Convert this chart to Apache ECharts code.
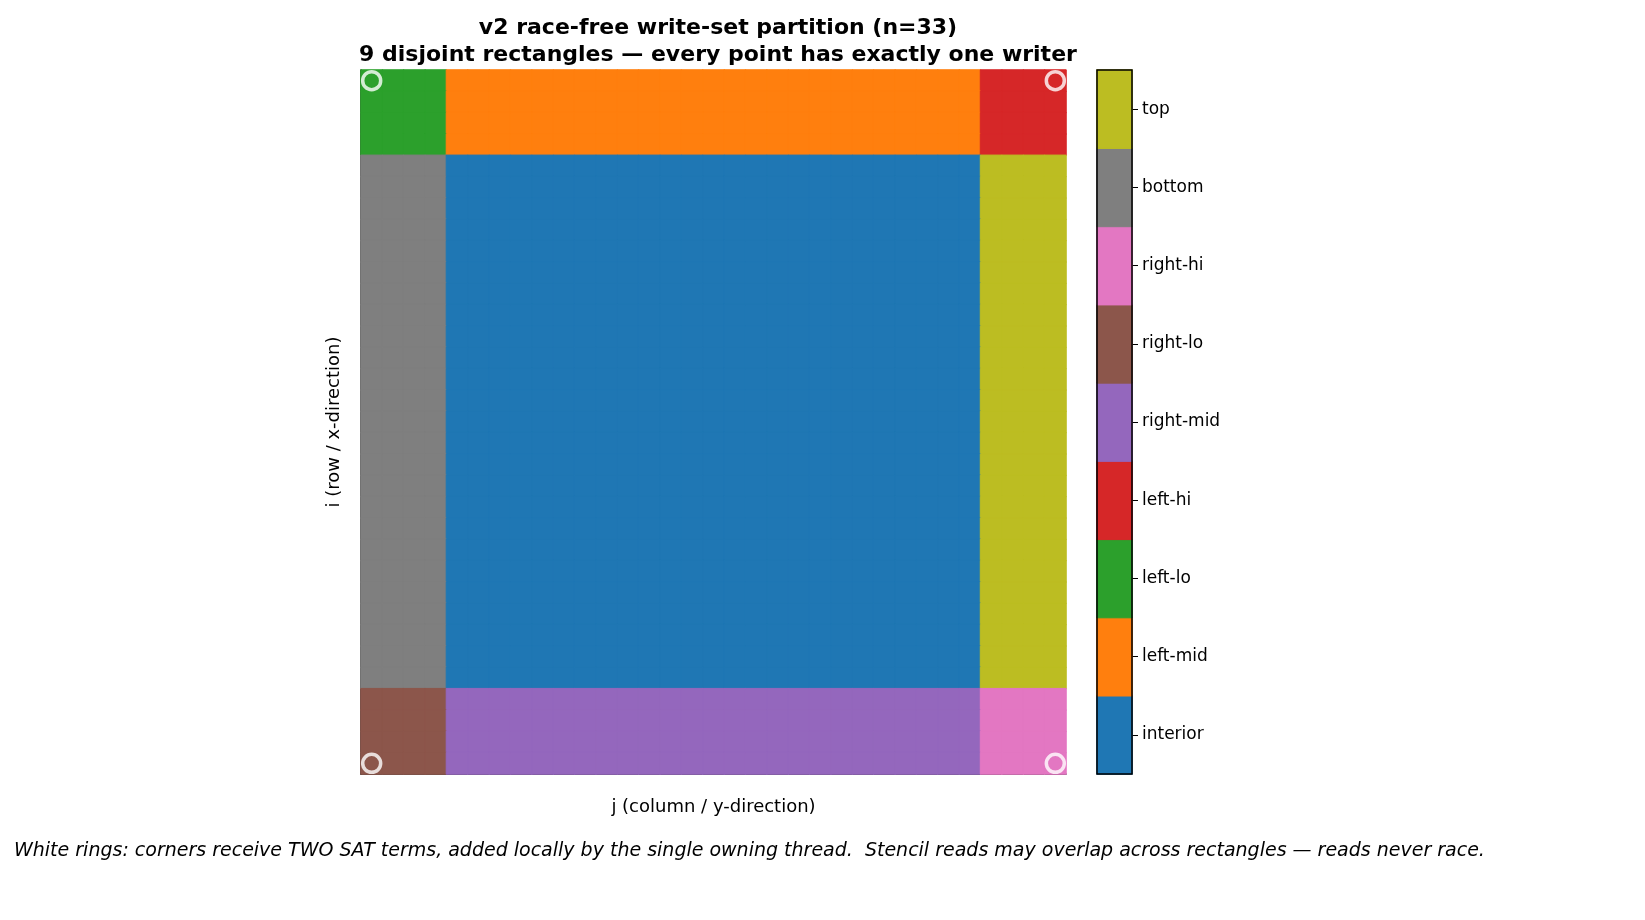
<!DOCTYPE html>
<html><head><meta charset="utf-8">
<script src="https://cdn.jsdelivr.net/npm/echarts@6/dist/echarts.min.js"></script>
<style>body{margin:0;background:#fff}#c{width:1645px;height:920px}</style>
</head><body><div id="c"></div>
<script>
const N = 33;
const edgeWidth = 4;
const regionNames = ['interior','left-mid','left-lo','left-hi','right-mid','right-lo','right-hi','bottom','top'];
const regionColors = ['#1f77b4','#ff7f0e','#2ca02c','#d62728','#9467bd','#8c564b','#e377c2','#7f7f7f','#bcbd22'];
// region id by [rowBand][colBand]: band 0 = first 4, 1 = middle, 2 = last 4
const regionGrid = [[2,1,3],[7,0,8],[5,4,6]];
const corners = [[0,0],[0,32],[32,0],[32,32]];

const idx = Array.from({length:N},(_,k)=>String(k));
function band(k){return k<edgeWidth?0:(k>=N-edgeWidth?2:1);}
function item(x,y,r){const c=regionColors[r];return {value:[x,y,r],itemStyle:{color:c,borderColor:c,borderWidth:1}};}
const cells=[];
for(let i=0;i<N;i++)for(let j=0;j<N;j++)cells.push(item(j,i,regionGrid[band(i)][band(j)]));
const barCells=regionNames.map((n,k)=>item(0,k,k));

const chart=echarts.init(document.getElementById('c'));
chart.setOption({
  animation:false,
  title:{text:'v2 race-free write-set partition (n=33)\n9 disjoint rectangles — every point has exactly one writer',
    left:713,top:10,textAlign:'center',textStyle:{fontSize:22,fontWeight:'bold',color:'#000',lineHeight:27,fontFamily:'DejaVu Sans'}},
  graphic:[
    {type:'text',left:14,top:842,style:{text:'White rings: corners receive TWO SAT terms, added locally by the single owning thread.  Stencil reads may overlap across rectangles — reads never race.',
      font:'italic 19px DejaVu Sans',fill:'#000'}},
    {type:'rect',shape:{x:1097,y:70,width:35,height:704},style:{fill:'none',stroke:'#000',lineWidth:1.5},z:10}
  ],
  grid:[{left:361,top:70,width:705,height:704},{left:1097,top:70,width:35,height:704}],
  xAxis:[{type:'category',data:idx,gridIndex:0,axisTick:{show:false},axisLabel:{show:false},
      axisLine:{lineStyle:{color:'#000',width:1.5}},name:'j (column / y-direction)',nameLocation:'middle',nameGap:24,
      nameTextStyle:{fontSize:18,color:'#000',fontFamily:'DejaVu Sans'}},
    {type:'category',data:['c'],gridIndex:1,show:false}],
  yAxis:[{type:'category',data:idx,inverse:true,gridIndex:0,axisTick:{show:false},axisLabel:{show:false},
      axisLine:{lineStyle:{color:'#000',width:1.5}},name:'i (row / x-direction)',nameLocation:'middle',nameGap:18,
      nameTextStyle:{fontSize:18,color:'#000',fontFamily:'DejaVu Sans'}},
    {type:'category',data:regionNames,gridIndex:1,position:'right',axisLine:{show:false},
      axisTick:{show:true,alignWithLabel:true,length:6,lineStyle:{color:'#000'}},axisLabel:{fontSize:17,color:'#000',margin:10,fontFamily:'DejaVu Sans'}}],
  series:[
    {type:'heatmap',xAxisIndex:0,yAxisIndex:0,data:cells},
    {type:'scatter',xAxisIndex:0,yAxisIndex:0,data:corners.map(([i,j])=>[j,i]),symbolSize:18,
      itemStyle:{color:'rgba(0,0,0,0)',borderColor:'#fff',borderWidth:3.5},z:5},
    {type:'heatmap',xAxisIndex:1,yAxisIndex:1,data:barCells}
  ]
});
</script></body></html>
